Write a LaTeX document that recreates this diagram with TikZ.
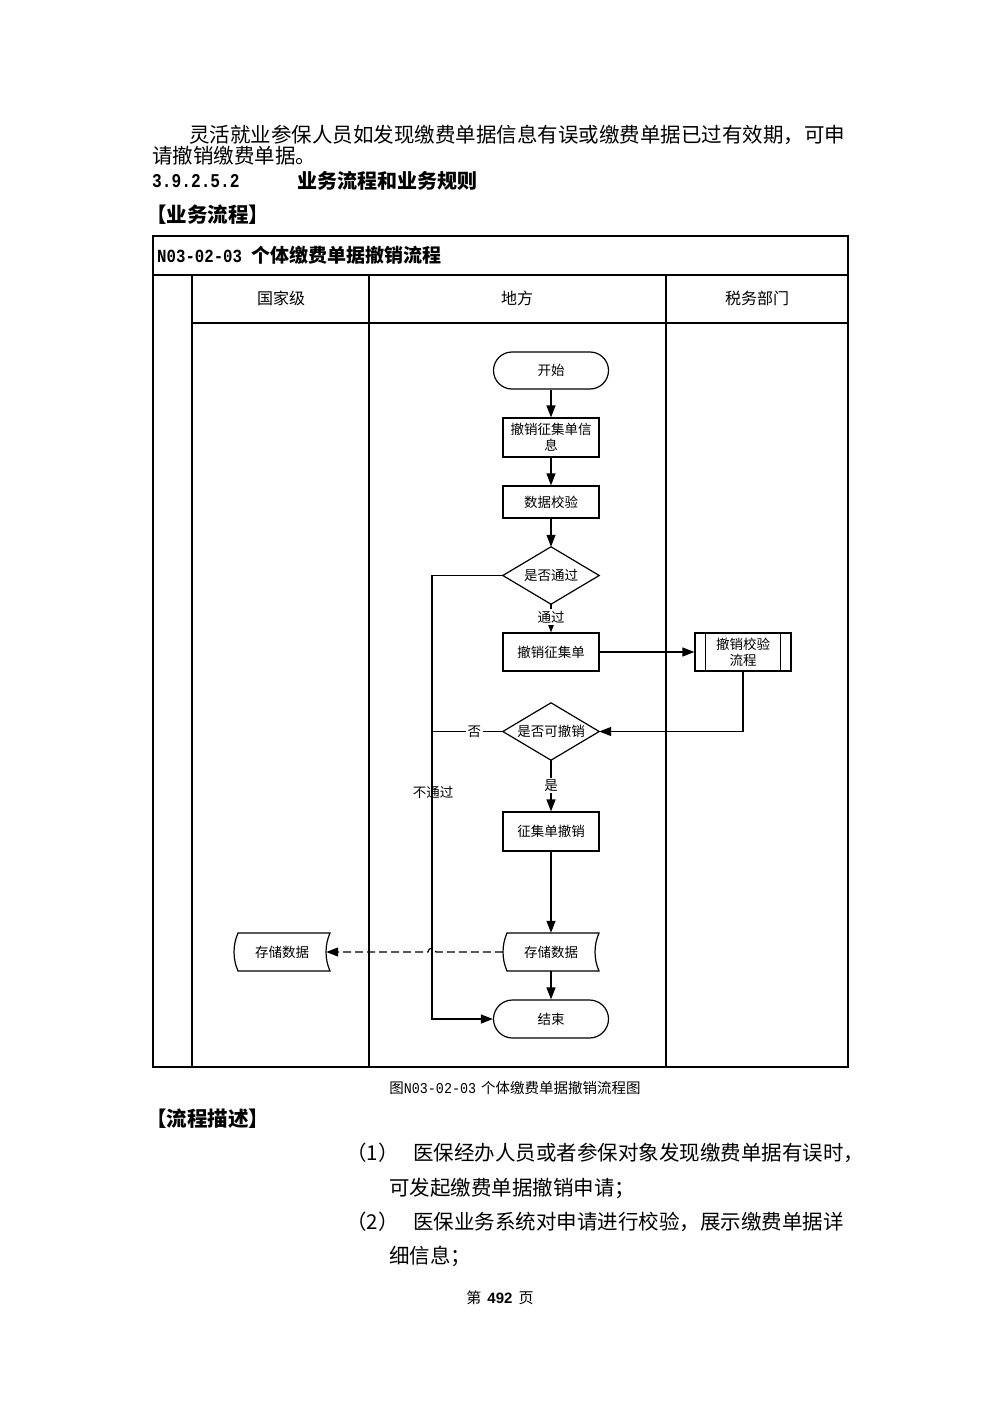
\documentclass[tikz,border=0pt]{standalone}
\usepackage{fontspec}
\setmainfont{Noto Sans CJK SC}
\newfontfamily\mono{Liberation Mono}
\newfontfamily\lsans{Liberation Sans}
\usetikzlibrary{shapes.geometric,arrows.meta,calc}
\newcommand{\fs}[1]{\fontsize{#1}{#1}\selectfont}
\newcommand{\narrow}[3]{\scalebox{#1}[1]{\fs{#2}\mono\bfseries #3}}
\begin{document}
\begin{tikzpicture}[x=1pt,y=-1pt,
  txt/.style={anchor=base west, inner sep=0pt},
  frame/.style={line width=1.4pt},
  fl/.style={line width=1.2pt},
  box/.style={draw, fl, minimum width=96pt, inner sep=0pt, align=center, font=\fontsize{13.5}{16}\selectfont},
  term/.style={draw, fl, rounded corners=18.5pt, minimum width=115pt, minimum height=37pt, inner sep=0pt, font=\fs{13.5}},
  dec/.style={minimum width=96pt, minimum height=57pt, inner sep=0pt, font=\fs{13.5}},
  arr/.style={fl, -{Triangle[length=12pt,width=9pt]}},
  lbl/.style={fill=white, inner sep=1.5pt, font=\fs{13.5}},
  hdr/.style={inner sep=0pt, font=\fs{16}}
]
\useasboundingbox (0,0) rectangle (1000,1415);
\fill[white] (0,0) rectangle (1000,1415);

% ---- body text ----
\node[txt, font=\fs{20.5}] (para1) at (189,143) {灵活就业参保人员如发现缴费单据信息有误或缴费单据已过有效期，可申};
\node[txt, font=\fs{20.5}] (para2) at (152,164) {请撤销缴费单据。};
\node[txt] (secnum) at (152,188) {\narrow{0.83}{19.5}{3.9.2.5.2}};
\node[txt, font=\fs{20}\bfseries] (sectitle) at (297,189) {业务流程和业务规则};
\node[txt, font=\fs{20.5}\bfseries] (bizflow) at (146,223) {【业务流程】};

% ---- table frame ----
\draw[frame] (153,236) rectangle (848,1067);
\draw[frame] (153,275) -- (848,275);
\draw[frame] (192,323) -- (848,323);
\draw[frame] (192,275) -- (192,1067);
\draw[frame] (369,275) -- (369,1067);
\draw[frame] (666,275) -- (666,1067);
\node[txt, font=\fs{19}\bfseries] (ttl) at (157,262) {\narrow{0.85}{18.5}{N03-02-03}\hspace{9pt}个体缴费单据撤销流程};
\node[hdr] (h1) at (281,298) {国家级};
\node[hdr] (h2) at (517,298) {地方};
\node[hdr] (h3) at (757,298) {税务部门};

% ---- flow nodes ----
\node[term] (start) at (551,370.5) {开始};
\node[box, minimum height=39pt] (n1) at (551,437.5) {撤销征集单信\\息};
\node[box, minimum height=32pt] (n2) at (551,502) {数据校验};
\node[dec] (d1) at (551,575.5) {是否通过};
\draw[fl] (d1.north) -- (d1.east) -- (d1.south) -- (d1.west) -- cycle;
\node[box, minimum height=38pt] (n3) at (551,652) {撤销征集单};
\node[box, minimum height=38pt] (p1) at (743,652) {撤销校验\\流程};
\draw[fl] ([xshift=11pt]p1.north west) -- ([xshift=11pt]p1.south west);
\draw[fl] ([xshift=-11pt]p1.north east) -- ([xshift=-11pt]p1.south east);
\node[dec] (d2) at (551,731.5) {是否可撤销};
\draw[fl] (d2.north) -- (d2.east) -- (d2.south) -- (d2.west) -- cycle;
\node[box, minimum height=39pt] (n4) at (551,831.5) {征集单撤销};
\node[inner sep=0pt, minimum width=96pt, minimum height=38pt, font=\fs{13.5}] (storeR) at (551,952) {存储数据};
\node[inner sep=0pt, minimum width=96pt, minimum height=38pt, font=\fs{13.5}] (storeL) at (282,952) {存储数据};
\node[term, minimum height=38pt, rounded corners=19pt] (end) at (551,1019) {结束};

% stored data outlines
\draw[fl] (507,933) -- (599,933) .. controls (593.7,945) and (593.7,959) .. (599,971) -- (507,971) .. controls (501.7,959) and (501.7,945) .. (507,933) -- cycle;
\draw[fl] (238,933) -- (330,933) .. controls (324.7,945) and (324.7,959) .. (330,971) -- (238,971) .. controls (232.7,959) and (232.7,945) .. (238,933) -- cycle;

\coordinate (loopx) at (432,0);

% ---- connectors ----
\draw[arr] (start) -- (n1);
\draw[arr] (n1) -- (n2);
\draw[arr] (n2) -- (d1.north);
\draw[arr] (d1.south) -- (n3.north) node[lbl, pos=0.45] (lpass) {通过};
\draw[arr] (d1.west) -- (d1.west -| loopx) -- (end.west -| loopx) -- (end.west);
\draw[fl] (d2.west) -- (d2.west -| loopx) node[lbl, pos=0.4] (lno) {否};
\node[font=\fs{13.5}, inner sep=0pt] (lfail) at (433,792) {不通过};
\draw[arr] (n3.east) -- (p1.west);
\draw[arr] (p1.south) |- (d2.east);
\draw[arr] (d2.south) -- (n4.north) node[lbl, pos=0.5] (lyes) {是};
\draw[arr] (n4.south) -- (storeR.north);
\draw[arr] (storeR.south) -- (end.north);
\draw[fl, dash pattern=on 8pt off 4pt, -{Triangle[length=12pt,width=9pt]}]
  (storeR.west) -- (436,952) arc[start angle=0, end angle=180, radius=4pt] -- ($(storeL.east)+(-4,0)$);

% ---- below table ----
\node[inner sep=0pt, font=\fs{14.5}] (cap) at (515,1088) {图\scalebox{0.89}[1]{\fs{15}\mono N03-02-03}\hspace{5pt}个体缴费单据撤销流程图};
\node[txt, font=\fs{20.5}\bfseries] (desc) at (146,1126) {【流程描述】};
\node[txt, font=\fs{20.5}] (i1) at (346,1160) {（1）};
\node[txt, font=\fs{20.5}] (t1) at (413,1160) {医保经办人员或者参保对象发现缴费单据有误时，};
\node[txt, font=\fs{20.5}] (t1b) at (389,1195) {可发起缴费单据撤销申请；};
\node[txt, font=\fs{20.5}] (i2) at (346,1229) {（2）};
\node[txt, font=\fs{20.5}] (t2) at (413,1229) {医保业务系统对申请进行校验，展示缴费单据详};
\node[txt, font=\fs{20.5}] (t2b) at (389,1263) {细信息；};
\node[inner sep=0pt, font=\fs{15}] (page) at (500,1298) {第\hspace{6pt}{\lsans\bfseries 492}\hspace{6pt}页};
\end{tikzpicture}
\end{document}
